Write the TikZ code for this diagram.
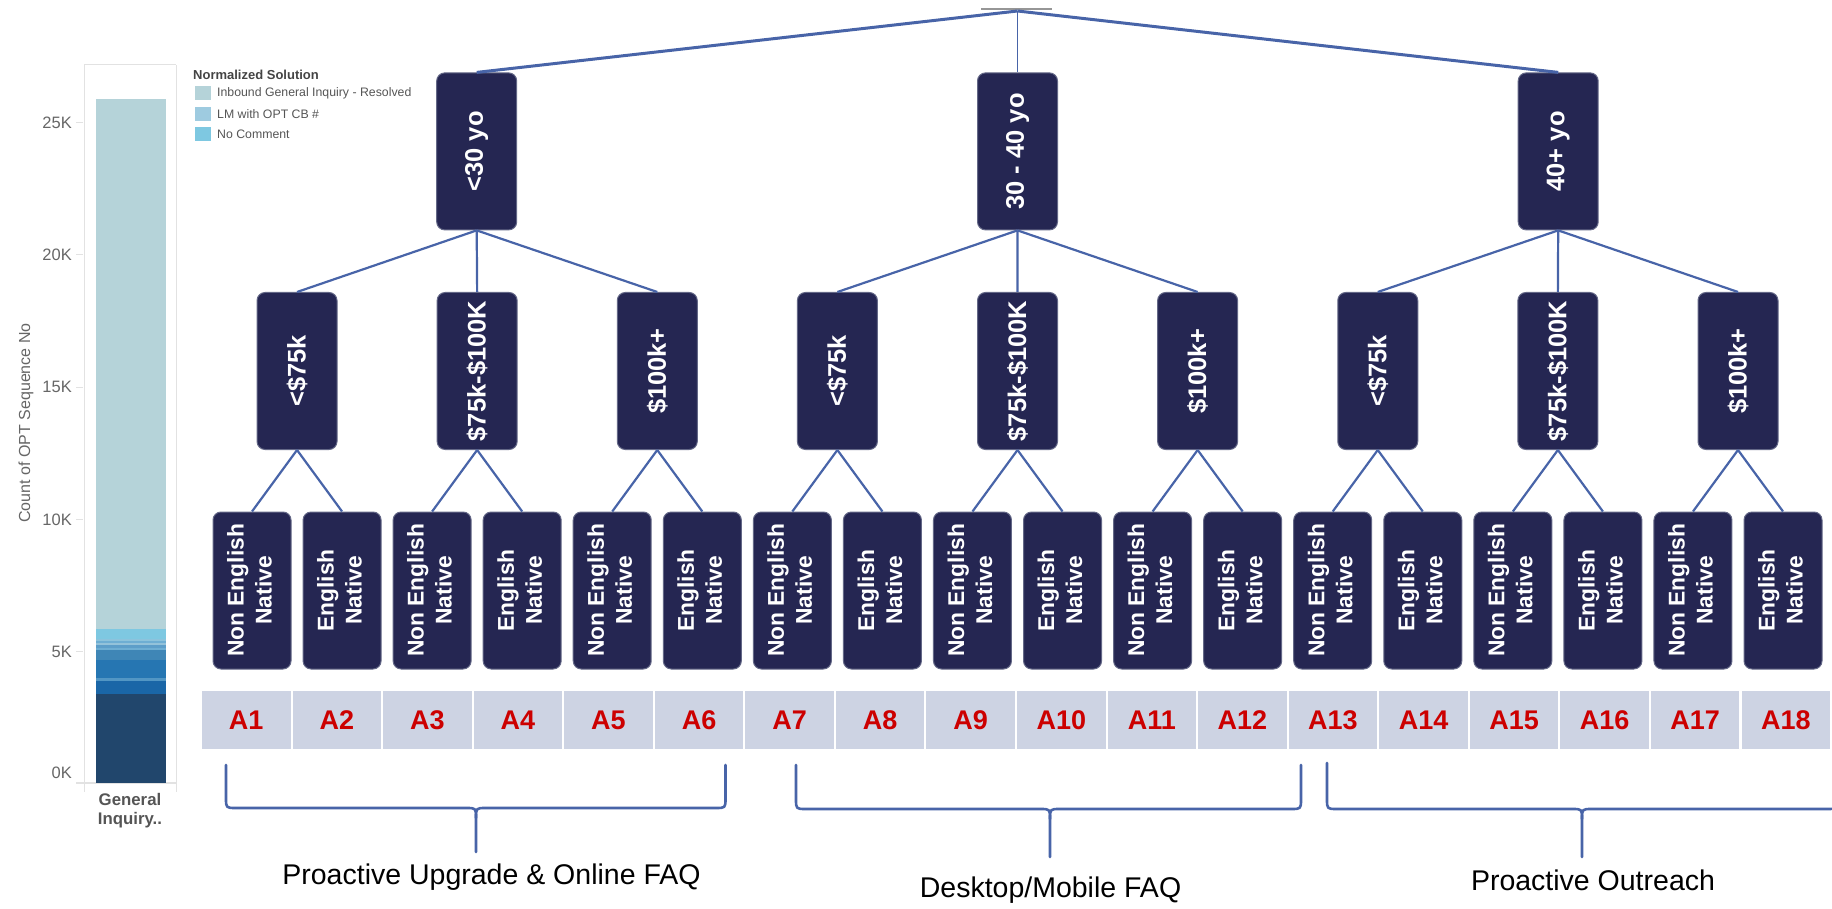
\documentclass[tikz,border=0pt]{standalone}
\usepackage{fontspec}
\setmainfont{Liberation Sans}
\usepackage{graphicx}

\definecolor{boxfill}{RGB}{37,38,82}
\definecolor{boxedge}{RGB}{100,104,135}
\definecolor{linkblue}{RGB}{72,100,168}
\definecolor{cellfill}{RGB}{205,211,227}
\definecolor{cellred}{RGB}{204,0,0}
\definecolor{ticktext}{RGB}{102,102,102}
\definecolor{legtext}{RGB}{85,85,85}
\definecolor{legtitle}{RGB}{68,68,68}
\definecolor{panelline}{RGB}{226,226,226}
\definecolor{rootbar}{RGB}{150,150,150}
% stacked bar segments, top to bottom
\definecolor{segA}{RGB}{181,211,217}
\definecolor{segB}{RGB}{126,200,225}
\definecolor{segC}{RGB}{140,195,220}
\definecolor{segD}{RGB}{110,174,211}
\definecolor{segE}{RGB}{147,194,218}
\definecolor{segF}{RGB}{93,158,201}
\definecolor{segG}{RGB}{63,134,182}
\definecolor{segH}{RGB}{38,118,178}
\definecolor{segI}{RGB}{82,150,196}
\definecolor{segJ}{RGB}{26,102,167}
\definecolor{segK}{RGB}{33,70,108}
\definecolor{legB}{RGB}{158,203,224}

\tikzset{
  lvlbox/.style={rectangle, rounded corners=8pt, fill=boxfill, draw=boxedge,
    line width=1pt, minimum width=80pt, minimum height=157pt, inner sep=0pt,
    text=white, font=\fontsize{25.5}{29}\selectfont\bfseries},
  leafbox/.style={lvlbox, minimum width=78pt, font=\fontsize{22.8}{28}\selectfont\bfseries},
  cellbox/.style={rectangle, fill=cellfill, minimum width=88.5pt, minimum height=58pt,
    inner sep=0pt, text=cellred, font=\fontsize{27}{30}\selectfont\bfseries},
  rootlink/.style={draw=linkblue, line width=3pt},
  stemlink/.style={draw=linkblue, line width=1.6pt},
  treelink/.style={draw=linkblue, line width=2.2pt},
  bracestroke/.style={draw=linkblue, line width=2.6pt, line cap=round, line join=round},
  ticklabel/.style={anchor=east, text=ticktext, font=\fontsize{16.5}{18}\selectfont, inner sep=0pt},
  legitem/.style={anchor=west, text=legtext, font=\fontsize{12.3}{14}\selectfont, inner sep=0pt},
  groupcaption/.style={text=black, font=\fontsize{28.5}{32}\selectfont, inner sep=0pt},
}

% curly brace: left x, middle x, right x, top y, bar y, tip y
\newcommand{\groupbrace}[6]{%
  \draw[bracestroke] (#1,#4) -- (#1,#5-10) .. controls (#1,#5) and (#1,#5) .. (#1+10,#5)
    -- (#2-10,#5) .. controls (#2,#5) and (#2,#5) .. (#2,#5+10) -- (#2,#6);
  \draw[bracestroke] (#3,#4) -- (#3,#5-10) .. controls (#3,#5) and (#3,#5) .. (#3-10,#5)
    -- (#2+10,#5) .. controls (#2,#5) and (#2,#5) .. (#2,#5+10);
}

\begin{document}
\begin{tikzpicture}[x=1pt,y=-1pt]
\useasboundingbox (0,0) rectangle (1832,909);
\clip (0,0) rectangle (1832,909);

%----------------------------------------------------------------- bar chart
\draw[panelline, line width=1pt] (84,65) -- (176,65);
\draw[panelline, line width=1pt] (84,65) -- (84,792);
\draw[panelline, line width=1pt] (176,65) -- (176,792);
\draw[panelline, line width=1.2pt] (76,783) -- (176,783);
\foreach \k/\lab in {25/25K,20/20K,15/15K,10/10K,5/5K} {
  \draw[panelline, line width=1pt] (76,784-\k*26.46) -- (83,784-\k*26.46);
  \node[ticklabel] at (72,784-\k*26.46) {\lab};
}
\node[ticklabel] at (72,773) {0K};
\node[rotate=90, text=ticktext, font=\fontsize{16}{18}\selectfont] at (26,423) {Count of OPT Sequence No};

\fill[segA] (96,99) rectangle (166,629);
\fill[segB] (96,629) rectangle (166,638.5);
\fill[segC] (96,638.5) rectangle (166,641);
\fill[segD] (96,641) rectangle (166,643);
\fill[segE] (96,643) rectangle (166,645);
\fill[segF] (96,645) rectangle (166,647.5);
\fill[segD] (96,647.5) rectangle (166,650);
\fill[segG] (96,650) rectangle (166,660);
\fill[segH] (96,660) rectangle (166,678);
\fill[segI] (96,678) rectangle (166,681);
\fill[segJ] (96,681) rectangle (166,694);
\fill[segK] (96,694) rectangle (166,783);

\node[text=legtext, font=\fontsize{16.8}{20}\selectfont\bfseries, align=center] (cat) at (130,811)
  {General\\[-1pt]Inquiry..};

% legend
\node[anchor=west, text=legtitle, font=\fontsize{13}{15}\selectfont\bfseries, inner sep=0pt] (legt) at (193,75) {Normalized Solution};
\fill[segA] (195,86) rectangle (211,100);
\fill[legB] (195,107) rectangle (211,121);
\fill[segB] (195,127.5) rectangle (211,141.5);
\node[legitem] (leg1) at (217,93) {Inbound General Inquiry - Resolved};
\node[legitem] (leg2) at (217,114) {LM with OPT CB \#};
\node[legitem] (leg3) at (217,134.5) {No Comment};

%----------------------------------------------------------------- tree
\coordinate (root) at (1017.5,11);
\draw[rootbar, line width=2pt] (981,9) -- (1052,9);

\node[lvlbox] (L1) at (476.7,151.4) {\rotatebox{90}{<30 yo}};
\node[lvlbox] (L2) at (1017.5,151.4) {\rotatebox{90}{30 - 40 yo}};
\node[lvlbox] (L3) at (1558.2,151.4) {\rotatebox{90}{40+ yo}};

\draw[rootlink] (root) -- (L1.north);
\draw[stemlink] (root) -- (L2.north);
\draw[rootlink] (root) -- (L3.north);

\foreach \j/\lab in {1/<\$75k,2/\$75k-\$100K,3/\$100k+,
                     4/<\$75k,5/\$75k-\$100K,6/\$100k+,
                     7/<\$75k,8/\$75k-\$100K,9/\$100k+} {
  \pgfmathsetmacro\mx{252+(2*\j-1.5)*90.06}
  \node[lvlbox] (M\j) at (\mx,371) {\rotatebox{90}{\lab}};
}

\foreach \i in {1,...,18} {
  \pgfmathsetmacro\lx{252+(\i-1)*90.06}
  \ifodd\i
    \node[leafbox] (N\i) at (\lx,590.5)
      {\rotatebox{90}{\begin{tabular}{@{}c@{}}Non English\\Native\end{tabular}}};
  \else
    \node[leafbox] (N\i) at (\lx,590.5)
      {\rotatebox{90}{\begin{tabular}{@{}c@{}}English\\Native\end{tabular}}};
  \fi
  \pgfmathsetmacro\cx{202+(\i-1)*90.56+44.25}
  \node[cellbox] (C\i) at (\cx,720) {A\i};
}

% level 1 to level 2
\foreach \p/\c in {1/1,1/2,1/3,2/4,2/5,2/6,3/7,3/8,3/9} {
  \draw[treelink] (L\p.south) -- (M\c.north);
}
% level 2 to leaves
\foreach \c in {1,...,9} {
  \pgfmathtruncatemacro\a{2*\c-1}
  \pgfmathtruncatemacro\b{2*\c}
  \draw[treelink] (M\c.south) -- (N\a.north);
  \draw[treelink] (M\c.south) -- (N\b.north);
}

%----------------------------------------------------------------- braces
\groupbrace{226}{476}{725.5}{765}{808}{852}
\groupbrace{796}{1050}{1301}{765}{809}{857}
\groupbrace{1327}{1582}{1837}{763}{809}{857}

\node[groupcaption] (g1) at (491.5,877) {Proactive Upgrade \& Online FAQ};
\node[groupcaption] (g2) at (1050.5,890) {Desktop/Mobile FAQ};
\node[groupcaption] (g3) at (1593,880) {Proactive Outreach};
\end{tikzpicture}
\end{document}
